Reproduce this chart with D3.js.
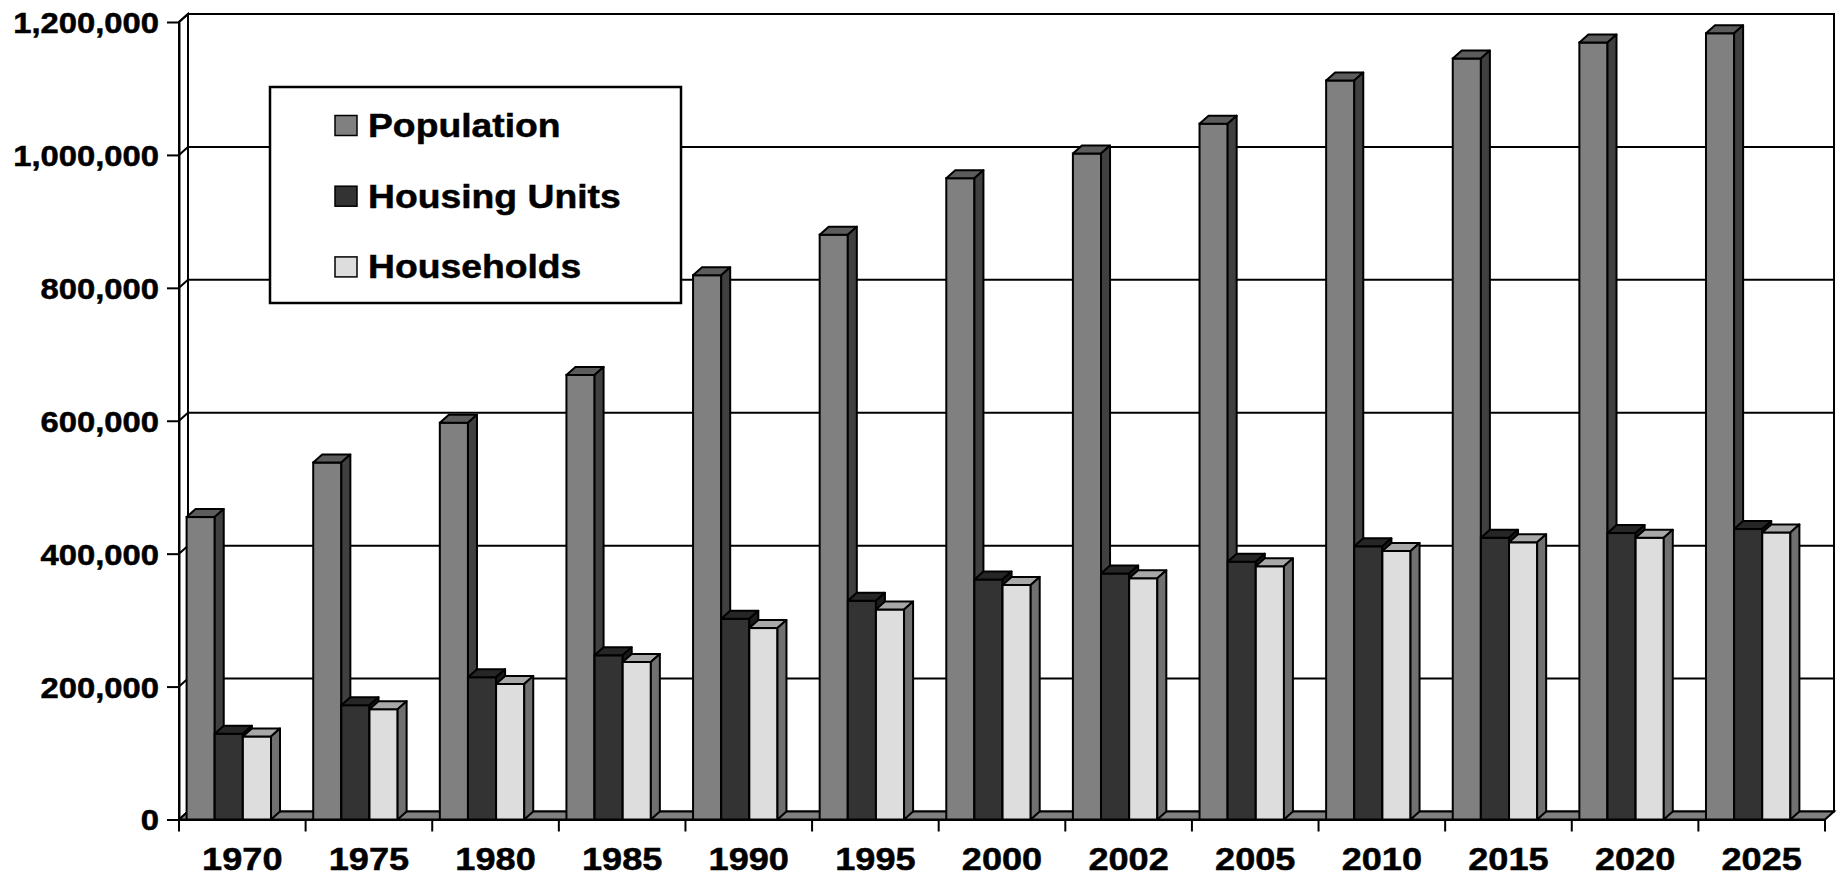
<!DOCTYPE html>
<html>
<head>
<meta charset="utf-8">
<script src="https://cdn.jsdelivr.net/npm/d3@7"></script>
<style>
  body { margin: 0; background: #ffffff; }
  text { font-family: "Liberation Sans", Arial, sans-serif; font-weight: bold; fill: #000; stroke: #000; stroke-width: 0.5px; }
</style>
</head>
<body>
<div id="chart"></div>
<script>
//// Data
const years = ["1970", "1975", "1980", "1985", "1990", "1995", "2000", "2002", "2005", "2010", "2015", "2020", "2025"]
const series_names = ["Population", "Housing Units", "Households"]
const population = [455000, 537000, 597000, 669000, 819000, 880000, 965000, 1002000, 1047000, 1112000, 1145000, 1169000, 1183000]
const housing_units = [129000, 172000, 214000, 247000, 302000, 329000, 361000, 370000, 388000, 411000, 424000, 431000, 437000]
const households = [125000, 166000, 204000, 237000, 288000, 316000, 353000, 363000, 381000, 404000, 417000, 424000, 432000]
const y_ticks = [0, 200000, 400000, 600000, 800000, 1000000, 1200000]

//// Constants
const WIDTH = 1843
const HEIGHT = 878
const DX = 9          // depth of the 3D box, to the right
const DY = 8          // depth of the 3D box, upwards
const STRETCH = 1.13  // the type in the picture is a bit wide
const plot = {left: 179, right: 1825, top: 22, bottom: 819.5}

const front_colors = ["#808080", "#333333", "#dddddd"]
const top_colors = ["#5c5c5c", "#262626", "#a8a8a8"]
const side_colors = ["#404040", "#1a1a1a", "#707070"]

const series_values = [population, housing_units, households]

// flat list of bars, left to right, so the right hand bars overlap the side faces
var bars = []
years.forEach((year, i) => {
    series_names.forEach((name, j) => {
        bars.push({year: year, series: name, index: j, value: series_values[j][i]})
    })
})

//// Scales
var x0 = d3.scaleBand()
    .domain(years)
    .range([plot.left, plot.right])

var group_offset = x0.bandwidth() * 0.06
var group_width = x0.bandwidth() / 1.5

var x1 = d3.scaleBand()
    .domain(series_names)
    .range([0, group_width])

var y = d3.scaleLinear()
    .domain([0, 1200000])
    .range([plot.bottom, plot.top])

var svg = d3.select("#chart")
    .append("svg")
        .attr("width", WIDTH)
        .attr("height", HEIGHT)

function poly(points) {
    return "M" + points.map(p => p[0] + "," + p[1]).join("L") + "Z"
}

//// Walls and floor
// back wall
svg.append("rect")
    .attr("x", plot.left + DX)
    .attr("y", plot.top - DY)
    .attr("width", plot.right - plot.left)
    .attr("height", plot.bottom - plot.top)
    .attr("fill", "#fff")
    .attr("stroke", "#000")
    .attr("stroke-width", 2)

// left side wall
svg.append("path")
    .attr("d", poly([
        [plot.left, plot.top], [plot.left + DX, plot.top - DY],
        [plot.left + DX, plot.bottom - DY], [plot.left, plot.bottom]
    ]))
    .attr("fill", "#fff")
    .attr("stroke", "#000")
    .attr("stroke-width", 2)

// gridlines across side wall and back wall
svg.append("g")
    .selectAll("path")
        .data(y_ticks.filter(d => d > 0))
        .enter()
        .append("path")
            .attr("d", d => "M" + plot.left + "," + y(d)
                + "L" + (plot.left + DX) + "," + (y(d) - DY)
                + "L" + (plot.right + DX) + "," + (y(d) - DY))
            .attr("fill", "none")
            .attr("stroke", "#000")
            .attr("stroke-width", 2)

// floor
svg.append("path")
    .attr("d", poly([
        [plot.left, plot.bottom], [plot.right, plot.bottom],
        [plot.right + DX, plot.bottom - DY], [plot.left + DX, plot.bottom - DY]
    ]))
    .attr("fill", "#808080")
    .attr("stroke", "#000")
    .attr("stroke-width", 2)

//// Bars
var bar_groups = svg.append("g")
    .selectAll("g")
        .data(bars)
        .enter()
        .append("g")

function bar_x(d) { return x0(d.year) + group_offset + x1(d.series) }

// front face
bar_groups.append("rect")
    .attr("x", d => bar_x(d))
    .attr("y", d => y(d.value))
    .attr("width", x1.bandwidth())
    .attr("height", d => y(0) - y(d.value))
    .attr("fill", d => front_colors[d.index])
    .attr("stroke", "#000")
    .attr("stroke-width", 2)

// top face
bar_groups.append("path")
    .attr("d", d => {
        var xl = bar_x(d), xr = xl + x1.bandwidth(), yt = y(d.value)
        return poly([[xl, yt], [xl + DX, yt - DY], [xr + DX, yt - DY], [xr, yt]])
    })
    .attr("fill", d => top_colors[d.index])
    .attr("stroke", "#000")
    .attr("stroke-width", 2)
    .attr("stroke-linejoin", "round")

// side face
bar_groups.append("path")
    .attr("d", d => {
        var xr = bar_x(d) + x1.bandwidth(), yt = y(d.value), yb = y(0)
        return poly([[xr, yt], [xr + DX, yt - DY], [xr + DX, yb - DY], [xr, yb]])
    })
    .attr("fill", d => side_colors[d.index])
    .attr("stroke", "#000")
    .attr("stroke-width", 2)
    .attr("stroke-linejoin", "round")

//// Y axis
var y_axis = svg.append("g")
    .attr("transform", "translate(" + plot.left + ",0)")
    .call(d3.axisLeft(y)
        .tickValues(y_ticks)
        .tickSize(12)
        .tickSizeOuter(0)
        .tickFormat(d3.format(",")))

y_axis.select(".domain").attr("stroke", "#000").attr("stroke-width", 2)
y_axis.selectAll(".tick line").attr("stroke", "#000").attr("stroke-width", 2)
y_axis.selectAll(".tick text")
    .attr("x", 0)
    .attr("dy", "0.36em")
    .attr("transform", "translate(-20,0) scale(" + STRETCH + ",1)")
    .style("font-size", "29px")
    .style("font-family", "'Liberation Sans', Arial, sans-serif")
    .style("font-weight", "bold")

//// X axis
var x_axis = svg.append("g")
    .attr("transform", "translate(0," + plot.bottom + ")")
    .call(d3.axisBottom(x0)
        .tickSize(0)
        .tickSizeOuter(0))

x_axis.select(".domain").attr("stroke", "#000").attr("stroke-width", 2)
x_axis.selectAll(".tick text")
    .attr("y", 0)
    .attr("dy", "0.71em")
    .attr("transform", "translate(0,28) scale(" + STRETCH + ",1)")
    .style("font-size", "32px")
    .style("font-family", "'Liberation Sans', Arial, sans-serif")
    .style("font-weight", "bold")

// boundary ticks between categories
svg.append("g")
    .selectAll("line")
        .data(years.map(d => x0(d)).concat([plot.right]))
        .enter()
        .append("line")
            .attr("x1", d => d)
            .attr("x2", d => d)
            .attr("y1", plot.bottom)
            .attr("y2", plot.bottom + 12)
            .attr("stroke", "#000")
            .attr("stroke-width", 2)

//// Legend
var legend = {x: 270, y: 87, width: 411, height: 216}
svg.append("rect")
    .attr("x", legend.x)
    .attr("y", legend.y)
    .attr("width", legend.width)
    .attr("height", legend.height)
    .attr("fill", "#fff")
    .attr("stroke", "#000")
    .attr("stroke-width", 2.5)

var legend_items = svg.append("g")
    .selectAll("g")
        .data(series_names)
        .enter()
        .append("g")
            .attr("transform", (d, i) => "translate(" + (legend.x + 65) + "," + (legend.y + 50 + i * 70.7) + ")")

legend_items.append("rect")
    .attr("x", 0)
    .attr("y", -21.5)
    .attr("width", 22)
    .attr("height", 20)
    .attr("fill", (d, i) => front_colors[i])
    .attr("stroke", "#000")
    .attr("stroke-width", 1.5)

legend_items.append("text")
    .attr("transform", "translate(33,0) scale(" + STRETCH + ",1)")
    .style("font-size", "33px")
    .text(d => d)
</script>
</body>
</html>
